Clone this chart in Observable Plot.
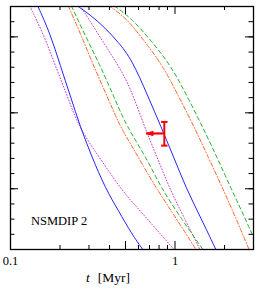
<!DOCTYPE html>
<html>
<head>
<meta charset="utf-8">
<script src="https://cdn.jsdelivr.net/npm/d3@7"></script>
<script src="https://cdn.jsdelivr.net/npm/@observablehq/plot@0.6"></script>
<style>
  html, body { margin: 0; padding: 0; background: #fff; }
</style>
</head>
<body>
<div id="chart"></div>
<script>
// ---- data (t in Myr, y in axis units) ----
const m1_t = [0.1309, 0.1585, 0.1874, 0.2216, 0.2594, 0.3463, 0.4642, 0.5412, 0.7256, 0.986];
const m1_y = [16.04, 14.19, 12.10, 10.10, 8.07, 6.07, 4.05, 3.21, 1.65, 0];

const b1_t = [0.1464, 0.1747, 0.2009, 0.2310, 0.2656, 0.3127, 0.3765, 0.4532, 0.5466, 0.637];
const b1_y = [16.04, 14.19, 12.10, 10.12, 8.07, 6.09, 4.05, 2.55, 1.01, 0];

const o1_t = [0.2246, 0.2720, 0.3197, 0.3855, 0.4642, 0.5412, 0.6424, 0.7670, 1.014, 1.341];
const o1_y = [16.04, 13.97, 12.10, 10.12, 8.07, 6.91, 5.48, 4.05, 2.07, 0];

const g1_t = [0.2343, 0.2848, 0.3511, 0.4227, 0.5096, 0.6672, 0.8226, 1.087, 1.478];
const g1_y = [16.04, 14.08, 12.10, 10.12, 8.07, 6.09, 4.05, 2.07, 0];

const b2_t = [0.2547, 0.3053, 0.3765, 0.4512, 0.545, 0.6832, 0.8226, 0.982, 1.166, 1.437, 1.772];
const b2_y = [16.04, 15.45, 14.59, 13.66, 12.54, 10.12, 8.07, 6.09, 4.05, 2.07, 0];

const m2_t = [0.2656, 0.2982, 0.3661, 0.4532, 0.5374, 0.6514, 0.778, 0.9236, 1.139, 1.418];
const m2_y = [16.04, 15.18, 13.66, 12.10, 10.63, 8.07, 6.09, 4.05, 2.07, 0];

const o2_t = [0.3981, 0.4708, 0.5466, 0.6832, 0.8424, 1.047, 1.309, 1.591, 1.946, 2.343, 2.820];
const o2_y = [16.04, 15.48, 14.79, 13.42, 12.11, 10.12, 8.07, 6.09, 4.05, 2.07, 0];

const g2_t = [0.4268, 0.5412, 0.7161, 0.9457, 1.182, 1.472, 1.797, 2.185, 2.512, 2.929];
const g2_y = [16.04, 15.25, 13.75, 12.10, 10.12, 8.07, 6.09, 4.05, 2.66, 1.06];

// observation with error bar and left-pointing arrow
const obs_t = [0.861];
const obs_y = [7.64];
const obs_lo = [6.84];
const obs_hi = [8.40];
const obs_arrowTo = [0.667];

// axis ticks
const xMinorTicks = [0.2, 0.3, 0.4, 0.6, 0.7, 0.8, 0.9, 2, 3];
const xMajorTicks = [0.1, 0.5, 1];
const xTickLabels = [0.1, 0.5, 1];
const yMinorTicks = d3.range(0, 17);
const yMajorTicks = [4, 9, 14];

const label = "NSMDIP 2";

// ---- build tables ----
function rowsOf(name, ts, ys) { return ts.map((t, i) => ({series: name, t, y: ys[i]})); }
const magenta = [...rowsOf("m1", m1_t, m1_y), ...rowsOf("m2", m2_t, m2_y)];
const blue    = [...rowsOf("b1", b1_t, b1_y), ...rowsOf("b2", b2_t, b2_y)];
const orange  = [...rowsOf("o1", o1_t, o1_y), ...rowsOf("o2", o2_t, o2_y)];
const green   = [...rowsOf("g1", g1_t, g1_y), ...rowsOf("g2", g2_t, g2_y)];
const obs = obs_t.map((t, i) => ({t, y: obs_y[i], lo: obs_lo[i], hi: obs_hi[i], to: obs_arrowTo[i]}));
const caps = obs.flatMap(d => [{t: d.t, y: d.lo}, {t: d.t, y: d.hi}]);

const W = 259, H = 289;
const mL = 10, mR = 6, mT = 6, mB = 40;
const pw = W - mL - mR, ph = H - mT - mB;

const capSymbol = {
  draw(ctx, size) { const r = Math.sqrt(size / Math.PI); ctx.moveTo(-r, 0); ctx.lineTo(r, 0); }
};
const leftTriangle = {
  draw(ctx, size) { const r = Math.sqrt(size / Math.PI); ctx.moveTo(-r, 0); ctx.lineTo(r, -r * 0.65); ctx.lineTo(r, r * 0.65); ctx.closePath(); }
};

const lineOpts = {x: "t", y: "y", z: "series", curve: "basis", clip: true, strokeWidth: 1};

const svg = Plot.plot({
  width: W, height: H,
  marginLeft: mL, marginRight: mR, marginTop: mT, marginBottom: mB,
  x: {type: "log", domain: [0.1, 3], axis: null},
  y: {domain: [0, 16], axis: null},
  style: {fontFamily: "'Liberation Serif', 'DejaVu Serif', serif", background: "#fff", color: "#000"},
  marks: [
    Plot.line(magenta, {...lineOpts, stroke: "#d040d0", strokeDasharray: "1,2"}),
    Plot.line(orange, {...lineOpts, stroke: "#ff6428", strokeDasharray: "4,2,1,2"}),
    Plot.line(green, {...lineOpts, stroke: "#2eae2e", strokeDasharray: "4,3"}),
    Plot.line(blue, {...lineOpts, stroke: "#2424ff"}),
    // error bar + arrow
    Plot.link(obs, {x1: "t", x2: "t", y1: "lo", y2: "hi", stroke: "red", strokeWidth: 2}),
    Plot.dot(caps, {x: "t", y: "y", symbol: capSymbol, r: 3.2, stroke: "red", strokeWidth: 2, fill: "none"}),
    Plot.link(obs, {x1: "t", y1: "y", x2: "to", y2: "y", stroke: "red", strokeWidth: 2.2, insetEnd: 4}),
    Plot.dot(obs, {x: "to", y: "y", dx: 3.5, symbol: leftTriangle, r: 3.5, fill: "red", stroke: "red", strokeWidth: 0.8}),
    // inward ticks: bottom / top
    Plot.tickX(xMinorTicks, {x: d => d, insetTop: ph - 4, stroke: "#000"}),
    Plot.tickX(xMajorTicks, {x: d => d, insetTop: ph - 8, stroke: "#000"}),
    Plot.tickX(xMinorTicks, {x: d => d, insetBottom: ph - 4, stroke: "#000"}),
    Plot.tickX(xMajorTicks, {x: d => d, insetBottom: ph - 8, stroke: "#000"}),
    // inward ticks: left / right
    Plot.tickY(yMinorTicks, {y: d => d, insetRight: pw - 4.5, stroke: "#000"}),
    Plot.tickY(yMajorTicks, {y: d => d, insetRight: pw - 8, stroke: "#000"}),
    Plot.tickY(yMinorTicks, {y: d => d, insetLeft: pw - 4.5, stroke: "#000"}),
    Plot.tickY(yMajorTicks, {y: d => d, insetLeft: pw - 8, stroke: "#000"}),
    Plot.frame({stroke: "#000", strokeWidth: 1.3}),
    Plot.axisX(xTickLabels, {tickSize: 0, tickPadding: 7, fontSize: 12.5, tickFormat: d => String(d), fill: "#000"}),
    Plot.text([label], {frameAnchor: "bottom-left", dx: 20.5, dy: -24.3, textAnchor: "start", lineAnchor: "bottom", fontSize: 12.5, fill: "#000"})
  ]
});

// x-axis title with italic t
const xt = d3.select(svg).append("text")
  .attr("x", 108).attr("y", 282)
  .attr("font-size", 13.5)
  .attr("fill", "#000")
  .attr("font-family", "'Liberation Serif', 'DejaVu Serif', serif");
xt.append("tspan").attr("font-style", "italic").text("t");
xt.append("tspan").attr("dx", 8).text("[Myr]");

document.getElementById("chart").appendChild(svg);
</script>
</body>
</html>
